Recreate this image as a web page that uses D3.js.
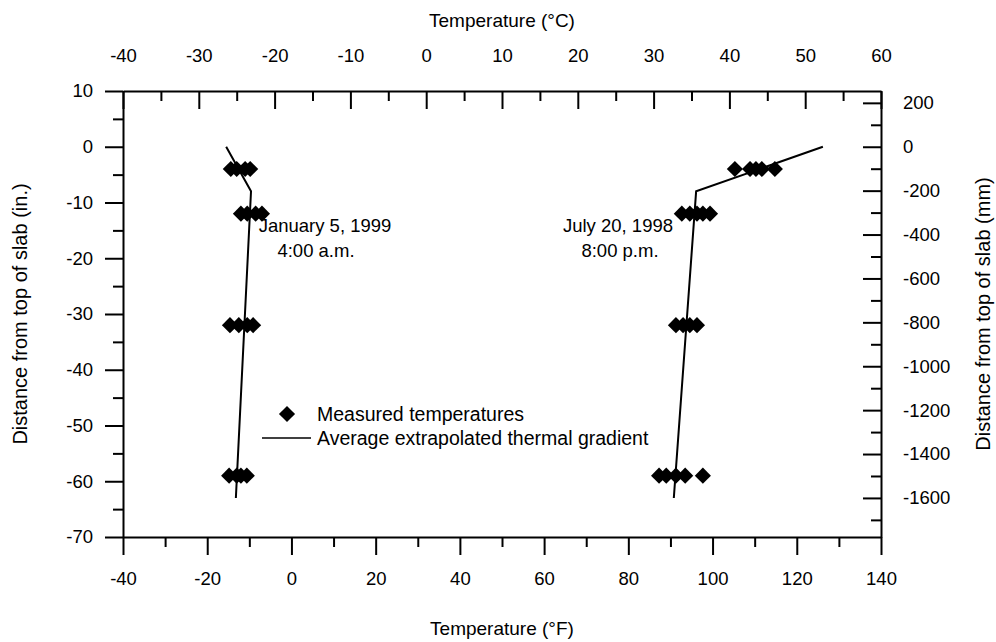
<!DOCTYPE html>
<html>
<head>
<meta charset="utf-8">
<script src="https://cdn.jsdelivr.net/npm/d3@7"></script>
<style>
  html, body { margin: 0; padding: 0; background: #fff; }
  svg { display: block; font-family: "Liberation Sans", Arial, Helvetica, sans-serif; }
  .axis text { font-size: 18.5px; fill: #000; }
  .axis path, .axis line { stroke: #000; stroke-width: 2; }
</style>
</head>
<body>
<svg id="chart" width="996" height="642"></svg>
<script>
// Measured slab temperatures (°F) at depth (in.)
const janDepth  = [-4, -4, -4, -4, -12, -12, -12, -12, -32, -32, -32, -32, -59, -59, -59, -59];
const janTempF  = [-14.4, -13.0, -11.0, -9.8, -12.0, -10.5, -8.5, -7.0, -14.6, -12.5, -10.5, -9.1, -14.8, -13.0, -12.0, -10.6];
const julyDepth = [-4, -4, -4, -4, -4, -12, -12, -12, -12, -12, -32, -32, -32, -32, -59, -59, -59, -59, -59];
const julyTempF = [105.3, 108.9, 110.3, 111.7, 114.8, 92.7, 94.6, 96.3, 97.7, 99.4, 91.3, 93.0, 94.6, 96.3, 87.3, 89.0, 91.3, 93.5, 97.7];

// Average extrapolated thermal gradients
const janLineTempF  = [-15.5, -9.6, -13.2];
const janLineDepth  = [0, -8, -63];
const julyLineTempF = [126.2, 96.1, 90.8];
const julyLineDepth = [0, -8, -63];

// Axis ticks
const bottomTicksF = [-40, -20, 0, 20, 40, 60, 80, 100, 120, 140];
const topTicksC    = [-40, -30, -20, -10, 0, 10, 20, 30, 40, 50, 60];
const leftTicksIn  = [10, 0, -10, -20, -30, -40, -50, -60, -70];
const rightTicksMm = [200, 0, -200, -400, -600, -800, -1000, -1200, -1400, -1600];

const svg = d3.select("#chart");
const L = 123, R = 881, T = 91, B = 537;

const x  = d3.scaleLinear().domain([-40, 140]).range([L, R]);
const xc = d3.scaleLinear().domain([-40, 60]).range([L, R]);
const y  = d3.scaleLinear().domain([-70, 10]).range([B, T]);
const ym = d3.scaleLinear().domain([-70 * 25.4, 10 * 25.4]).range([B, T]);

const fmt = d => String(d);
const MAJ = 18, MIN = 10;

function drawAxis(axisMajor, axisMinor, transform) {
  const g = svg.append("g").attr("class", "axis").attr("transform", transform);
  g.append("g").call(axisMinor).call(s => s.select(".domain").remove());
  g.append("g").call(axisMajor);
  return g;
}

// bottom (°F), ticks outward
drawAxis(
  d3.axisBottom(x).tickValues(bottomTicksF).tickFormat(fmt).tickSize(MAJ).tickSizeOuter(0).tickPadding(17),
  d3.axisBottom(x).tickValues(d3.range(-30, 140, 20)).tickFormat("").tickSize(MIN).tickSizeOuter(0),
  `translate(0,${B})`);

// top (°C), ticks inward
drawAxis(
  d3.axisTop(xc).tickValues(topTicksC).tickFormat(fmt).tickSize(-MAJ).tickSizeOuter(0).tickPadding(29),
  d3.axisTop(xc).tickValues(d3.range(-35, 60, 10)).tickFormat("").tickSize(-MIN).tickSizeOuter(0),
  `translate(0,${T})`);

// left (in.), ticks outward
drawAxis(
  d3.axisLeft(y).tickValues(leftTicksIn).tickFormat(fmt).tickSize(MAJ).tickSizeOuter(0).tickPadding(12),
  d3.axisLeft(y).tickValues(d3.range(5, -70, -10)).tickFormat("").tickSize(MIN).tickSizeOuter(0),
  `translate(${L},0)`);

// right (mm), ticks inward
drawAxis(
  d3.axisRight(ym).tickValues(rightTicksMm).tickFormat(fmt).tickSize(-MAJ).tickSizeOuter(0).tickPadding(22),
  d3.axisRight(ym).tickValues(d3.range(100, -1778, -200)).tickFormat("").tickSize(-MIN).tickSizeOuter(0),
  `translate(${R},0)`);

// axis titles
svg.append("text").attr("x", (L + R) / 2).attr("y", 27).attr("text-anchor", "middle")
  .attr("font-size", 19).text("Temperature (°C)");
svg.append("text").attr("x", (L + R) / 2).attr("y", 635).attr("text-anchor", "middle")
  .attr("font-size", 19).text("Temperature (°F)");
svg.append("text").attr("transform", `translate(27,${(T + B) / 2}) rotate(-90)`)
  .attr("text-anchor", "middle").attr("font-size", 20).text("Distance from top of slab (in.)");
svg.append("text").attr("transform", `translate(990,${(T + B) / 2}) rotate(-90)`)
  .attr("text-anchor", "middle").attr("font-size", 20).text("Distance from top of slab (mm)");

// gradient lines
const line = d3.line().x(d => x(d[0])).y(d => y(d[1]));
[[janLineTempF, janLineDepth], [julyLineTempF, julyLineDepth]].forEach(([t, d]) => {
  svg.append("path")
    .datum(t.map((v, i) => [v, d[i]]))
    .attr("d", line).attr("fill", "none").attr("stroke", "#000").attr("stroke-width", 2);
});

// measured temperature markers
const diamond = d3.symbol().type(d3.symbolSquare).size(130);
const pts = janTempF.map((v, i) => [v, janDepth[i]])
  .concat(julyTempF.map((v, i) => [v, julyDepth[i]]));
svg.append("g").selectAll("path").data(pts).join("path")
  .attr("d", diamond)
  .attr("transform", d => `translate(${x(d[0])},${y(d[1])}) rotate(45)`)
  .attr("fill", "#000");

// date labels
const labels = [
  { x: 325, y: 232, t: "January 5, 1999" },
  { x: 316, y: 257, t: "4:00 a.m." },
  { x: 618, y: 232, t: "July 20, 1998" },
  { x: 620, y: 257, t: "8:00 p.m." }
];
svg.append("g").selectAll("text").data(labels).join("text")
  .attr("x", d => d.x).attr("y", d => d.y).attr("text-anchor", "middle")
  .attr("font-size", 18.5).text(d => d.t);

// legend
const lg = svg.append("g");
lg.append("path").attr("d", diamond).attr("transform", "translate(287,414) rotate(45)").attr("fill", "#000");
lg.append("text").attr("x", 317).attr("y", 421).attr("font-size", 19.5).text("Measured temperatures");
lg.append("line").attr("x1", 262).attr("x2", 311).attr("y1", 438).attr("y2", 438)
  .attr("stroke", "#000").attr("stroke-width", 1.5);
lg.append("text").attr("x", 317).attr("y", 445).attr("font-size", 19.5).text("Average extrapolated thermal gradient");
</script>
</body>
</html>
